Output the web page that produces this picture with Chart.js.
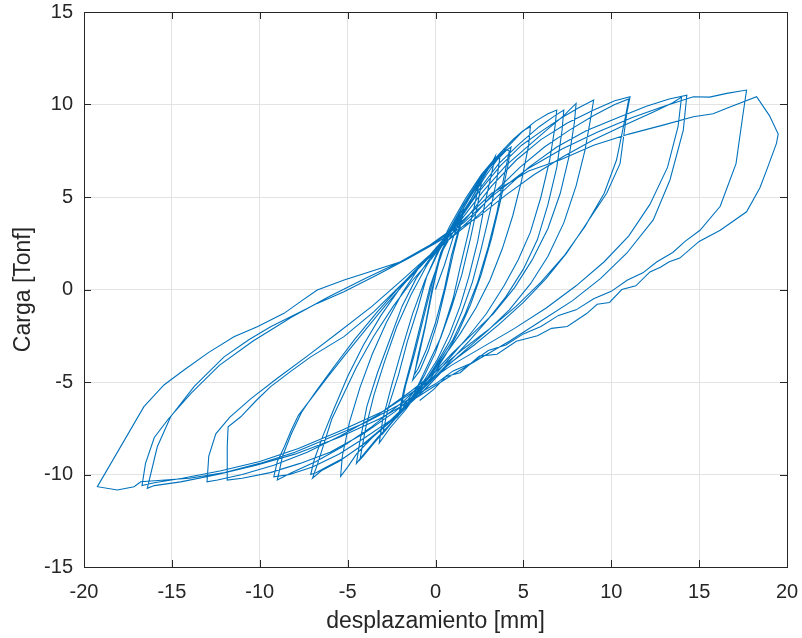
<!DOCTYPE html>
<html>
<head>
<meta charset="utf-8">
<script src="https://cdn.jsdelivr.net/npm/chart.js@4"></script>
<style>
  html, body { margin: 0; padding: 0; background: #fff; }
  #wrap { width: 802px; height: 638px; }
</style>
</head>
<body>
<div id="wrap"><canvas id="hyst" width="802" height="638"></canvas></div>
<script>
// ciclos de carga: [desplazamiento mm, carga Tonf]
var ciclo1 = [[0,0],[0.5,1.3],[1,2.8],[1.5,4.0],[1.3,3.2],[0.9,1.8],[0.5,0],[0,-1.8],[-0.5,-3.2],[-1.0,-4.3],[-1.2,-4.6],[-1.0,-3.6],[-0.6,-2.0],[-0.2,0],[0.2,1.5]];
var ciclo1b = [[0.6,2.6],[1.2,3.9],[1.6,4.3],[1.4,3.4],[1.0,1.9],[0.6,0.2],[0.1,-1.8],[-0.4,-3.3],[-0.9,-4.4],[-1.3,-4.9],[-1.0,-3.8],[-0.6,-2.1],[-0.2,-0.2],[0.2,1.6]];
var ciclo2 = [[0.8,3.0],[1.5,4.4],[2.0,5.2],[2.5,5.8],[2.3,4.9],[1.9,3.2],[1.4,1.2],[1.0,-0.5],[0.5,-2.0],[0,-3.4],[-0.6,-4.6],[-1.2,-5.6],[-1.7,-6.3],[-2.0,-6.6],[-1.7,-5.2],[-1.2,-3.5],[-0.7,-1.6],[-0.2,0.3],[0.3,2.0]];
var ciclo2b = [[0.9,3.2],[1.7,4.6],[2.3,5.6],[2.6,5.7],[2.4,4.6],[2.0,2.8],[1.5,0.8],[0.9,-1.0],[0.3,-2.6],[-0.4,-4.0],[-1.0,-5.2],[-1.6,-6.0],[-2.1,-6.8],[-1.8,-5.4],[-1.3,-3.6],[-0.8,-1.7],[-0.3,0.2],[0.4,2.1]];
var ciclo3 = [[1.0,3.1],[1.8,4.5],[2.5,5.7],[3.0,6.5],[3.4,7.2],[3.2,6.3],[2.8,4.6],[2.4,2.6],[1.9,0.7],[1.4,-0.9],[0.8,-2.4],[0.1,-3.8],[-0.7,-5.0],[-1.5,-6.1],[-2.3,-7.0],[-3.0,-7.8],[-2.7,-6.4],[-2.1,-4.6],[-1.6,-2.8],[-1.0,-1.0],[-0.5,0.7],[0.1,2.0]];
var ciclo3b = [[0.8,3.4],[1.7,4.9],[2.6,6.2],[3.3,7.0],[3.7,7.4],[3.5,6.0],[3.1,4.2],[2.6,2.2],[2.1,0.4],[1.5,-1.2],[0.8,-2.8],[0.0,-4.1],[-0.8,-5.3],[-1.7,-6.5],[-2.6,-7.5],[-3.2,-8.3],[-3.0,-7.0],[-2.5,-5.2],[-1.9,-3.2],[-1.3,-1.3],[-0.6,0.5],[0.2,2.1]];
var ciclo4 = [[1.1,3.5],[2.1,5.0],[2.9,6.2],[3.5,7.0],[4.0,7.5],[4.3,7.7],[4.1,6.6],[3.7,4.8],[3.2,2.8],[2.6,0.8],[2.0,-0.8],[1.3,-2.3],[0.6,-3.5],[-0.2,-4.7],[-1.2,-5.9],[-2.3,-7.0],[-3.3,-8.0],[-4.0,-8.8],[-4.5,-9.4],[-4.3,-8.2],[-3.9,-6.3],[-3.3,-4.5],[-2.6,-2.7],[-1.9,-0.9],[-1.1,0.6],[-0.3,1.7]];
var ciclo4b = [[0.7,3.0],[1.6,4.6],[2.5,5.9],[3.3,6.9],[3.9,7.6],[4.2,7.5],[3.9,6.1],[3.5,4.2],[3.0,2.3],[2.4,0.4],[1.7,-1.3],[1.0,-2.7],[0.2,-3.9],[-0.7,-5.1],[-1.6,-6.2],[-2.6,-7.3],[-3.5,-8.3],[-4.1,-9.0],[-4.3,-9.2],[-4.0,-7.6],[-3.5,-5.7],[-2.9,-3.9],[-2.2,-2.0],[-1.4,-0.3],[-0.5,1.3]];
var ciclo5 = [[0.6,2.9],[1.6,4.6],[2.6,6.1],[3.5,7.2],[4.4,8.1],[5.0,8.6],[5.4,8.8],[5.3,7.8],[4.9,5.9],[4.4,4.0],[3.8,2.2],[3.1,0.5],[2.3,-1.0],[1.4,-2.4],[0.5,-3.6],[-0.4,-4.8],[-1.4,-6.0],[-2.5,-7.1],[-3.6,-8.0],[-4.5,-8.9],[-5.0,-9.6],[-5.4,-10.1],[-5.3,-9.0],[-4.9,-7.2],[-4.3,-5.3],[-3.6,-3.5],[-2.8,-1.8],[-1.9,-0.2],[-1.0,1.1],[-0.2,2.0]];
var ciclo6 = [[0.8,3.1],[1.9,4.9],[3.0,6.5],[4.0,7.6],[4.9,8.5],[5.7,9.1],[6.4,9.5],[6.9,9.7],[6.8,8.8],[6.5,7.0],[6.0,5.0],[5.4,3.1],[4.7,1.6],[3.9,0.2],[2.9,-1.3],[1.9,-2.5],[0.9,-3.6],[-0.1,-4.7],[-1.3,-5.9],[-2.7,-7.2],[-4.0,-8.3],[-5.2,-9.1],[-6.2,-9.6],[-6.8,-9.9],[-7.1,-10.0],[-6.9,-9.2],[-6.4,-7.9],[-5.8,-6.5],[-5.0,-4.7],[-4.1,-3.0],[-3.1,-1.4],[-2.0,0.1],[-0.9,1.3],[0.1,2.2]];
var ciclo7 = [[1.2,3.6],[2.4,5.3],[3.6,6.8],[4.8,7.9],[5.9,8.8],[6.8,9.4],[7.3,9.7],[7.2,8.6],[6.9,6.6],[6.4,4.6],[5.8,2.7],[5.0,1.1],[4.0,-0.4],[3.0,-1.6],[1.9,-2.8],[0.9,-3.8],[-0.2,-4.9],[-1.5,-6.1],[-2.9,-7.4],[-4.3,-8.5],[-5.5,-9.3],[-6.5,-9.8],[-7.0,-10.2],[-6.7,-9.4],[-6.3,-8.2],[-5.9,-7.0],[-5.3,-5.8],[-4.5,-4.2],[-3.5,-2.5],[-2.4,-0.9],[-1.3,0.5],[-0.2,1.7]];
var ciclo8 = [[1.1,3.4],[2.4,5.2],[3.7,6.7],[4.9,7.8],[6.1,8.6],[7.2,9.3],[8.1,9.8],[9.0,10.24],[8.8,9.1],[8.5,7.5],[8.0,5.6],[7.3,3.6],[6.4,1.8],[5.4,0.3],[4.2,-1.1],[3.0,-2.2],[1.8,-3.2],[0.6,-4.2],[-0.7,-5.5],[-2.3,-6.9],[-4.0,-8.0],[-5.5,-8.9],[-7.0,-9.6],[-8.3,-10.0],[-9.2,-10.12],[-9.0,-9.3],[-8.6,-8.5],[-8.2,-7.6],[-7.8,-6.8],[-7.0,-5.8],[-6.2,-4.8],[-5.2,-3.6],[-4.0,-2.2],[-2.8,-0.8],[-1.6,0.5],[-0.4,1.7]];
var ciclo8b = [[1.4,3.7],[2.7,5.3],[4.0,6.7],[5.2,7.7],[6.3,8.6],[7.3,9.4],[8.0,10.06],[7.9,9.0],[7.6,7.2],[7.1,5.2],[6.4,3.3],[5.5,1.6],[4.5,0.1],[3.3,-1.3],[2.1,-2.4],[0.9,-3.5],[-0.4,-4.8],[-1.9,-6.1],[-3.6,-7.4],[-5.3,-8.5],[-6.8,-9.3],[-8.2,-9.9],[-9.0,-10.3],[-8.7,-9.0],[-8.2,-7.8],[-7.6,-6.6],[-6.8,-5.5],[-5.8,-4.2],[-4.6,-2.7],[-3.3,-1.2],[-2.0,0.2],[-0.8,1.4],[0.3,2.4]];
var ciclo9 = [[1.8,3.9],[3.2,5.6],[4.6,7.0],[6.0,8.1],[7.5,9.0],[9.0,9.7],[10.2,10.2],[11.07,10.42],[10.88,9.5],[10.5,6.8],[9.74,5.2],[8.6,3.58],[7.46,1.96],[6.3,0.6],[5.0,-0.7],[3.6,-1.9],[2.2,-3.0],[0.8,-4.0],[-0.6,-5.2],[-2.3,-6.6],[-4.1,-7.8],[-6.0,-8.8],[-7.7,-9.4],[-9.4,-9.9],[-11.0,-10.2],[-11.85,-10.3],[-11.85,-8.5],[-11.8,-7.42],[-11.08,-6.88],[-10.2,-6.0],[-9.38,-5.25],[-8.2,-4.4],[-7.1,-3.64],[-5.21,-2.55],[-3.5,-1.2],[-1.8,0.4],[-0.5,1.6]];
var ciclo10 = [[2.0,3.8],[3.4,5.3],[4.8,6.6],[6.2,7.7],[7.6,8.6],[9.0,9.4],[10.2,10.0],[11.0,10.3],[10.8,9.3],[10.3,7.0],[9.6,5.2],[8.5,3.4],[7.3,1.8],[6.0,0.4],[4.6,-0.9],[3.1,-2.1],[1.6,-3.2],[0.2,-4.3],[-1.4,-5.5],[-3.3,-6.8],[-5.4,-7.9],[-7.3,-8.8],[-9.2,-9.5],[-11.0,-10.0],[-12.4,-10.3],[-13.0,-10.4],[-12.9,-9.0],[-12.5,-7.8],[-11.7,-6.9],[-10.5,-5.9],[-9.0,-4.8],[-7.3,-3.6],[-5.5,-2.3],[-3.6,-0.9],[-1.8,0.6],[-0.4,1.8]];
var ciclo11 = [[2.2,3.8],[3.7,5.2],[5.3,6.6],[6.9,7.7],[8.6,8.6],[10.4,9.3],[12.0,9.9],[13.3,10.3],[14.3,10.5],[14.1,8.62],[13.34,5.92],[12.39,3.76],[10.88,1.96],[9.4,0.6],[7.8,-0.6],[6.0,-1.7],[4.2,-2.8],[2.4,-3.8],[0.8,-4.7],[-1.0,-5.8],[-3.2,-7.0],[-5.5,-8.0],[-8.0,-8.9],[-10.2,-9.5],[-12.4,-10.0],[-14.5,-10.4],[-16.0,-10.6],[-16.4,-10.75],[-15.83,-8.5],[-15.07,-6.88],[-13.74,-5.25],[-12.03,-3.64],[-10.6,-2.7],[-9.38,-2.01],[-6.73,-0.75],[-5.21,-0.12],[-3.3,0.8],[-1.5,1.7],[0.0,2.5]];
var ciclo12 = [[2.4,3.9],[4.0,5.1],[5.6,6.2],[7.3,7.2],[9.0,8.1],[10.8,8.9],[12.4,9.6],[13.5,10.1],[14.0,10.4],[13.8,8.8],[13.2,6.6],[12.2,4.6],[11.0,2.9],[9.6,1.5],[8.0,0.2],[6.3,-1.0],[4.5,-2.1],[2.7,-3.1],[0.9,-4.1],[-0.9,-5.3],[-3.0,-6.6],[-5.3,-7.6],[-7.8,-8.6],[-10.0,-9.3],[-12.2,-9.8],[-14.4,-10.2],[-16.0,-10.45],[-16.7,-10.6],[-16.5,-9.4],[-16.0,-8.0],[-15.2,-7.0],[-13.9,-5.6],[-12.3,-4.1],[-10.4,-2.8],[-8.2,-1.5],[-6.1,-0.4],[-4.0,0.6],[-2.0,1.5],[-0.4,2.3]];
var ciclo13 = [[1.6,3.6],[3.3,5.1],[5.2,6.5],[7.2,7.6],[9.2,8.5],[11.2,9.3],[13.0,9.9],[14.67,10.42],[15.6,10.4],[16.57,10.6],[17.7,10.78],[17.5,9.5],[17.1,6.8],[16.2,4.5],[15.05,3.2],[14.2,2.6],[13.5,2.0],[12.6,1.5],[11.8,0.9],[10.9,0.5],[10.0,-0.1],[9.0,-0.5],[8.0,-1.1],[7.0,-1.4],[6.0,-2.0],[5.0,-2.4],[4.0,-3.0],[3.0,-3.3],[2.0,-4.0],[1.0,-4.4],[0.0,-5.1],[-2.0,-6.2],[-4.0,-7.2],[-6.0,-8.0],[-8.0,-8.8],[-10.0,-9.4],[-12.0,-9.9],[-14.0,-10.2],[-16.77,-10.39],[-17.15,-10.66],[-18.1,-10.84],[-19.24,-10.66],[-16.59,-6.33],[-15.45,-5.16],[-14.31,-4.35],[-12.9,-3.4],[-11.47,-2.55],[-10.14,-2.01],[-8.62,-1.29],[-7.6,-0.6],[-6.73,-0.03],[-5.2,0.51],[-3.6,1.0],[-2.02,1.49],[-0.31,2.41]];
var ciclo14 = [[1.3,3.5],[3.2,5.2],[5.3,6.4],[7.08,7.0],[9.0,7.8],[11.0,8.4],[13.0,8.9],[14.67,9.34],[15.8,9.5],[16.57,9.8],[18.27,10.42],[19.0,9.4],[19.5,8.4],[19.4,7.9],[18.9,6.6],[18.46,5.5],[17.7,4.2],[16.2,3.2],[15.0,2.6],[13.9,1.7],[13.3,1.5],[12.8,1.2],[12.2,0.95],[11.4,0.2],[10.6,0.0],[9.9,-0.7],[9.2,-0.8],[8.6,-1.3],[7.5,-2.0],[6.6,-2.1],[5.8,-2.5],[4.6,-2.8],[3.5,-3.5],[2.5,-3.6],[1.4,-4.5],[0.6,-4.7],[-0.1,-5.4],[-0.9,-6.0]];

var ciclos = [ciclo1, ciclo1b, ciclo2, ciclo2b, ciclo3, ciclo3b, ciclo4, ciclo4b, ciclo5, ciclo6, ciclo7,
              ciclo8, ciclo8b, ciclo9, ciclo10, ciclo11, ciclo12, ciclo13, ciclo14];
var xTicks = [-20, -15, -10, -5, 0, 5, 10, 15, 20];
var yTicks = [-15, -10, -5, 0, 5, 10, 15];

var puntos = [];
ciclos.forEach(function (c) {
    c.forEach(function (p) { puntos.push({x: p[0], y: p[1]}); });
});

var fuente = '"Liberation Sans", Arial, Helvetica, sans-serif';
var oscuro = '#262626';

// caja y marcas hacia adentro, estilo matlab
var cajaMatlab = {
    id: 'cajaMatlab',
    afterDraw: function (chart) {
        var ctx = chart.ctx, a = chart.chartArea;
        var sx = chart.scales.x, sy = chart.scales.y;
        var L = 7;
        ctx.save();
        ctx.strokeStyle = oscuro;
        ctx.lineWidth = 1;
        ctx.beginPath();
        xTicks.forEach(function (v) {
            var px = Math.round(sx.getPixelForValue(v)) + 0.5;
            ctx.moveTo(px, a.bottom); ctx.lineTo(px, a.bottom - L);
            ctx.moveTo(px, a.top); ctx.lineTo(px, a.top + L);
        });
        yTicks.forEach(function (v) {
            var py = Math.round(sy.getPixelForValue(v)) + 0.5;
            ctx.moveTo(a.left, py); ctx.lineTo(a.left + L, py);
            ctx.moveTo(a.right, py); ctx.lineTo(a.right - L, py);
        });
        ctx.stroke();
        ctx.strokeRect(Math.round(a.left) + 0.5, Math.round(a.top) + 0.5,
                       Math.round(a.right - a.left), Math.round(a.bottom - a.top));
        ctx.restore();
    }
};

var chart = new Chart(document.getElementById('hyst'), {
    type: 'scatter',
    data: {
        datasets: [{
            data: puntos,
            showLine: true,
            borderColor: '#0072BD',
            borderWidth: 1.1,
            pointRadius: 0,
            tension: 0,
            fill: false
        }]
    },
    options: {
        responsive: false,
        animation: false,
        devicePixelRatio: 1,
        layout: { padding: { left: 0, right: 15, top: 12, bottom: 0 } },
        plugins: {
            legend: { display: false },
            tooltip: { enabled: false }
        },
        scales: {
            x: {
                type: 'linear',
                min: -20, max: 20,
                afterBuildTicks: function (s) { s.ticks = xTicks.map(function (v) { return {value: v}; }); },
                afterFit: function (s) {
                    s.height = 71;
                    s.paddingLeft = 0; s.paddingRight = 0;
                },
                ticks: { font: { family: fuente, size: 20 }, color: oscuro, padding: 13, maxRotation: 0 },
                grid: { color: '#e3e3e3', lineWidth: 1, drawTicks: false },
                border: { display: false },
                title: { display: true, text: 'desplazamiento [mm]', color: oscuro,
                         font: { family: fuente, size: 23 }, padding: { top: 0, bottom: 3 } }
            },
            y: {
                type: 'linear',
                min: -15, max: 15,
                afterBuildTicks: function (s) { s.ticks = yTicks.map(function (v) { return {value: v}; }); },
                afterFit: function (s) {
                    s.width = 84;
                    s.paddingTop = 0; s.paddingBottom = 0;
                },
                ticks: { font: { family: fuente, size: 20 }, color: oscuro, padding: 11 },
                grid: { color: '#e3e3e3', lineWidth: 1, drawTicks: false },
                border: { display: false },
                title: { display: true, text: 'Carga [Tonf]', color: oscuro,
                         font: { family: fuente, size: 23 }, padding: { top: 10, bottom: 0 } }
            }
        }
    },
    plugins: [cajaMatlab]
});
</script>
</body>
</html>
